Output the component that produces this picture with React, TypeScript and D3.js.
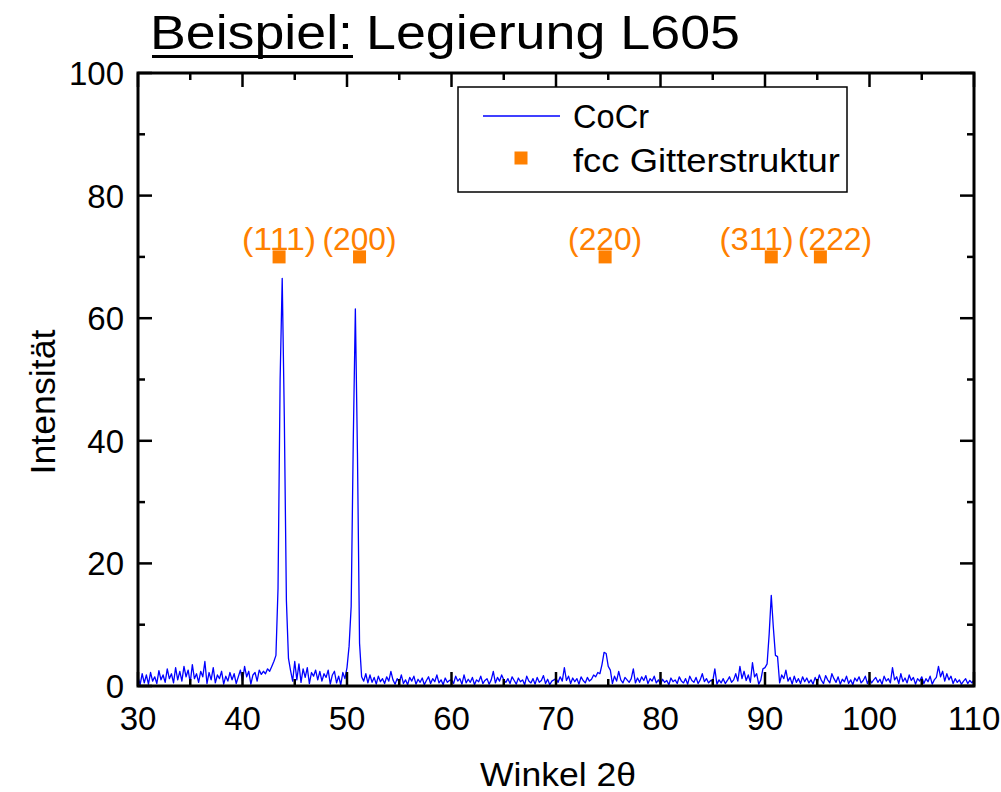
import React from 'react';
import * as d3 from 'd3';

// scan grid: 30.0 .. 110.0 deg in 0.2 deg steps, one row = 5 deg
const scanStart = 30;
const scanStep = 0.2;
const cocrRows: number[][] = [
  [1.5, 0.2, 2.0, 0.5, 1.8, 0.3, 2.2, 0.8, 1.5, 0.4, 2.5, 1.0, 1.8, 0.6, 2.8, 1.2, 2.0, 0.5, 3.0, 1.0, 2.4, 0.8, 3.2, 1.5, 2.6],
  [0.5, 3.5, 1.2, 2.0, 0.6, 2.4, 1.5, 4.0, 0.4, 2.2, 1.0, 3.0, 0.5, 1.8, 1.2, 2.4, 0.3, 1.6, 0.8, 2.2, 1.0, 2.0, 0.4, 1.5, 2.6],
  [0.8, 3.2, 1.5, 2.4, 0.3, 1.8, 2.2, 0.8, 2.6, 1.9, 2.4, 2.0, 2.8, 2.4, 3.2, 4.0, 5.0, 16, 50, 66.5, 44, 14, 4.5, 2.5, 0.8],
  [4.0, 1.0, 3.6, 0.6, 2.8, 1.4, 3.0, 0.4, 2.2, 1.6, 2.6, 1.0, 2.4, 0.8, 2.0, 1.4, 2.6, 0.3, 1.8, 2.4, 0.5, 1.6, 0.2, 2.2, 1.2],
  [3.0, 6.5, 13, 40, 61.5, 38, 7.0, 1.5, 0.8, 2.0, 0.5, 1.8, 0.6, 1.4, 0.3, 1.6, 0.7, 1.2, 0.4, 1.5, 0.8, 2.4, 1.0, 0.3, 1.2],
  [0.6, 1.8, 0.4, 1.0, 0.2, 1.4, 0.8, 1.6, 0.3, 1.1, 0.6, 1.3, 0.2, 0.9, 1.5, 0.4, 1.2, 0.7, 1.8, 0.5, 1.0, 0.2, 1.3, 0.6, 0.9],
  [1.0, 0.4, 1.6, 0.8, 1.2, 0.3, 1.8, 0.5, 1.1, 0.6, 1.4, 0.2, 1.0, 0.7, 1.6, 0.4, 0.9, 1.2, 0.3, 1.0, 2.4, 0.5, 1.4, 0.8, 1.8],
  [1.0, 0.6, 1.2, 0.4, 1.5, 0.9, 0.3, 1.3, 0.7, 1.0, 0.2, 1.6, 0.8, 0.5, 1.2, 0.3, 1.4, 0.6, 0.9, 1.7, 0.4, 1.1, 0.2, 0.8, 1.0],
  [1.2, 0.6, 1.5, 0.8, 3.0, 0.9, 1.6, 0.4, 1.3, 0.7, 1.2, 0.3, 1.5, 0.9, 0.5, 1.4, 0.8, 1.1, 1.8, 1.5, 2.2, 2.0, 3.5, 5.5, 5.3],
  [3.2, 2.6, 0.4, 1.6, 0.8, 2.4, 1.0, 0.5, 1.4, 1.0, 0.6, 1.2, 2.8, 0.5, 1.3, 0.6, 1.5, 0.9, 1.7, 0.4, 1.2, 0.8, 1.6, 0.5, 1.0],
  [0.3, 1.1, 0.6, 0.9, 0.2, 1.3, 0.7, 1.0, 0.4, 1.5, 0.8, 0.5, 1.2, 0.3, 1.6, 0.9, 0.6, 1.4, 0.4, 1.0, 2.0, 0.7, 1.2, 0.5, 0.9],
  [0.8, 2.8, 0.3, 1.0, 0.5, 1.2, 0.4, 0.9, 1.5, 0.6, 1.0, 2.0, 0.8, 3.2, 1.2, 2.4, 0.9, 1.8, 0.6, 3.8, 1.5, 2.0, 0.3, 1.0, 2.8],
  [3.0, 3.6, 8.5, 14.8, 9.5, 5.0, 4.8, 0.5, 1.8, 1.2, 2.6, 0.8, 1.4, 0.3, 1.6, 0.6, 1.2, 0.4, 1.5, 0.7, 1.3, 0.5, 1.0, 0.3, 1.4],
  [0.6, 1.8, 0.9, 0.4, 1.7, 1.0, 0.5, 2.0, 1.2, 0.6, 1.5, 0.3, 1.1, 0.7, 1.6, 0.4, 1.0, 0.2, 1.3, 0.8, 1.5, 0.5, 0.9, 1.6, 0.4],
  [1.2, 0.5, 1.0, 1.4, 0.6, 1.1, 0.3, 1.6, 0.8, 1.2, 0.5, 3.0, 1.0, 1.5, 0.4, 2.0, 0.7, 1.3, 0.5, 1.8, 0.9, 1.4, 0.3, 1.2, 0.8],
  [1.5, 0.4, 1.2, 0.7, 1.6, 0.3, 1.0, 1.4, 3.2, 1.5, 2.4, 0.8, 2.0, 1.0, 1.6, 0.4, 1.2, 0.6, 1.0, 0.3, 0.8, 1.2, 0.4, 0.9, 0.5],
  [1.0],
];

// fcc reflections
const fccHkl = ['(111)', '(200)', '(220)', '(311)', '(222)'];
const fccAngle = [43.5, 51.2, 74.7, 90.6, 95.3];
const fccMarkY = [70, 70, 70, 70, 70];
const fccLabelShift = [0, 0, 0, -1.4, 1.4]; // deg, so (311) and (222) don't collide

const xTicks = [30, 40, 50, 60, 70, 80, 90, 100, 110];
const yTicks = [0, 20, 40, 60, 80, 100];

const FONT = '"Liberation Sans", Arial, Helvetica, sans-serif';
const ORANGE = '#ff8000';
const BLUE = '#0000ff';

const App = () => {
  const W = 1001;
  const H = 792;
  const left = 138;
  const right = 974;
  const top = 73;
  const bottom = 686;

  const x = d3.scaleLinear().domain([30, 110]).range([left, right]);
  const y = d3.scaleLinear().domain([0, 100]).range([bottom, top]);

  const cocr = cocrRows.flat().map((v, i) => ({ a: scanStart + i * scanStep, v }));
  const line = d3
    .line<{ a: number; v: number }>()
    .x((d) => x(d.a))
    .y((d) => y(d.v));

  const xMinor = d3.range(35, 110, 10);
  const yMinor = d3.range(10, 100, 20);
  const major = 14;
  const minor = 7;
  const sq = 13;

  return (
    <svg
      width={W}
      height={H}
      style={{ position: 'absolute', left: 0, top: 0, display: 'block', background: '#fff' }}
      fontFamily={FONT}
    >
      <defs>
        <clipPath id="plot">
          <rect x={left} y={top} width={right - left} height={bottom - top} />
        </clipPath>
      </defs>

      {/* title */}
      <text x={150} y={49} fontSize={49} textLength={203} lengthAdjust="spacingAndGlyphs">
        Beispiel:
      </text>
      <rect x={152} y={55} width={201} height={3} fill="#000" />
      <text x={366} y={49} fontSize={49} textLength={374} lengthAdjust="spacingAndGlyphs">
        Legierung L605
      </text>

      {/* data */}
      <path
        d={line(cocr) ?? ''}
        fill="none"
        stroke={BLUE}
        strokeWidth={1.3}
        strokeLinejoin="round"
        clipPath="url(#plot)"
      />

      {/* fcc markers */}
      {fccAngle.map((a, i) => (
        <g key={fccHkl[i]}>
          <rect x={x(a) - sq / 2} y={y(fccMarkY[i]) - sq / 2} width={sq} height={sq} fill={ORANGE} />
          <text
            x={x(a + fccLabelShift[i])}
            y={y(fccMarkY[i]) - 7}
            fontSize={31}
            fill={ORANGE}
            textAnchor="middle"
            textLength={74}
            lengthAdjust="spacingAndGlyphs"
          >
            {fccHkl[i]}
          </text>
        </g>
      ))}

      {/* frame + ticks */}
      <g stroke="#000" strokeWidth={2.5}>
        {xTicks.map((t) => (
          <g key={'xt' + t}>
            <line x1={x(t)} x2={x(t)} y1={bottom} y2={bottom - major} />
            <line x1={x(t)} x2={x(t)} y1={top} y2={top + major} />
          </g>
        ))}
        {xMinor.map((t) => (
          <g key={'xm' + t}>
            <line x1={x(t)} x2={x(t)} y1={bottom} y2={bottom - minor} />
            <line x1={x(t)} x2={x(t)} y1={top} y2={top + minor} />
          </g>
        ))}
        {yTicks.map((t) => (
          <g key={'yt' + t}>
            <line x1={left} x2={left + major} y1={y(t)} y2={y(t)} />
            <line x1={right} x2={right - major} y1={y(t)} y2={y(t)} />
          </g>
        ))}
        {yMinor.map((t) => (
          <g key={'ym' + t}>
            <line x1={left} x2={left + minor} y1={y(t)} y2={y(t)} />
            <line x1={right} x2={right - minor} y1={y(t)} y2={y(t)} />
          </g>
        ))}
        <rect x={left} y={top} width={right - left} height={bottom - top} fill="none" strokeWidth={3} />
      </g>

      {/* tick labels */}
      {xTicks.map((t) => (
        <text key={'xl' + t} x={x(t)} y={730} fontSize={33} textAnchor="middle">
          {t}
        </text>
      ))}
      {yTicks.map((t) => (
        <text key={'yl' + t} x={124} y={y(t) + 12} fontSize={33} textAnchor="end">
          {t}
        </text>
      ))}

      {/* axis titles */}
      <text x={558} y={786} fontSize={34} textAnchor="middle" textLength={156} lengthAdjust="spacingAndGlyphs">
        Winkel 2θ
      </text>
      <text
        transform={`translate(55, 402) rotate(-90)`}
        fontSize={35}
        textAnchor="middle"
        textLength={145}
        lengthAdjust="spacingAndGlyphs"
      >
        Intensität
      </text>

      {/* legend */}
      <rect x={458} y={87} width={389} height={105} fill="#fff" stroke="#000" strokeWidth={1.5} />
      <line x1={483} x2={560} y1={116} y2={116} stroke={BLUE} strokeWidth={1.3} />
      <text x={573} y={128} fontSize={33} textLength={76} lengthAdjust="spacingAndGlyphs">
        CoCr
      </text>
      <rect x={521 - sq / 2} y={158 - sq / 2} width={sq} height={sq} fill={ORANGE} />
      <text x={573} y={172} fontSize={33} textLength={267} lengthAdjust="spacingAndGlyphs">
        fcc Gitterstruktur
      </text>
    </svg>
  );
};

export default App;
